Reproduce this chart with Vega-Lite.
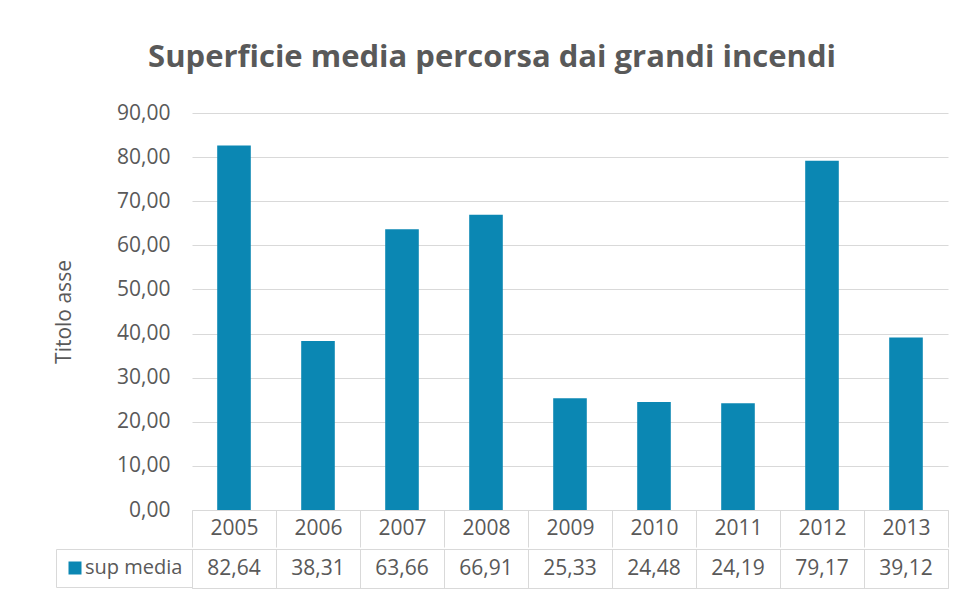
{
  "$schema": "https://vega.github.io/schema/vega-lite/v6.json",
  "background": "white",
  "padding": {"left": 53, "top": 42, "right": 15, "bottom": 7},
  "title": {
    "text": "Superficie media percorsa dai grandi incendi",
    "font": "Open Sans",
    "fontSize": 31,
    "fontWeight": "bold",
    "color": "#595959",
    "anchor": "middle",
    "dx": -9,
    "offset": 28
  },
  "data": {
    "values": [
      {"anno": "2005", "val": 82.64, "serie": "sup media"},
      {"anno": "2006", "val": 38.31, "serie": "sup media"},
      {"anno": "2007", "val": 63.66, "serie": "sup media"},
      {"anno": "2008", "val": 66.91, "serie": "sup media"},
      {"anno": "2009", "val": 25.33, "serie": "sup media"},
      {"anno": "2010", "val": 24.48, "serie": "sup media"},
      {"anno": "2011", "val": 24.19, "serie": "sup media"},
      {"anno": "2012", "val": 79.17, "serie": "sup media"},
      {"anno": "2013", "val": 39.12, "serie": "sup media"}
    ]
  },
  "spacing": 0,
  "resolve": {"scale": {"color": "independent"}, "legend": {"color": "independent"}},
  "vconcat": [
    {
      "width": 756,
      "height": 397,
      "view": {"stroke": null},
      "mark": {"type": "bar", "color": "#0b87b3", "width": {"band": 0.4}},
      "encoding": {
        "x": {
          "field": "anno",
          "type": "nominal",
          "sort": null,
          "scale": {"type": "band", "paddingInner": 0, "paddingOuter": 0},
          "axis": {
            "title": null,
            "labelAngle": 0,
            "labelFont": "Open Sans",
            "labelFontSize": 21,
            "labelColor": "#595959",
            "labelBaseline": "middle",
            "labelPadding": -19,
            "domainColor": "#d9d9d9",
            "ticks": true,
            "tickColor": "#d9d9d9",
            "tickSize": 37,
            "tickBand": "extent",
            "grid": false
          }
        },
        "y": {
          "field": "val",
          "type": "quantitative",
          "scale": {"domain": [0, 90], "nice": false},
          "axis": {
            "title": "Titolo asse",
            "titleFont": "Open Sans",
            "titleFontSize": 21,
            "titleFontWeight": "normal",
            "titleColor": "#595959",
            "titlePadding": 42,
            "values": [0, 10, 20, 30, 40, 50, 60, 70, 80, 90],
            "format": ".2f",
            "labelFont": "Open Sans",
            "labelFontSize": 21,
            "labelColor": "#595959",
            "labelPadding": 22,
            "domain": false,
            "ticks": false,
            "grid": true,
            "gridColor": "#d9d9d9"
          }
        }
      }
    },
    {
      "width": 756,
      "height": 39,
      "view": {"stroke": "#d9d9d9"},
      "layer": [
        {
          "mark": {"type": "square", "opacity": 0},
          "encoding": {
            "x": {
              "field": "anno",
              "type": "nominal",
              "sort": null,
              "scale": {"type": "band", "paddingInner": 0, "paddingOuter": 0},
              "axis": {
                "title": null,
                "labels": false,
                "ticks": false,
                "domain": false,
                "grid": true,
                "gridColor": "#d9d9d9",
                "tickBand": "extent"
              }
            },
            "color": {
              "field": "serie",
              "type": "nominal",
              "scale": {"range": ["#0b87b3"]},
              "legend": {
                "title": null,
                "orient": "left",
                "offset": 0,
                "symbolType": "square",
                "symbolSize": 169,
                "symbolOpacity": 1,
                "symbolStrokeWidth": 0,
                "labelFont": "Open Sans",
                "labelFontSize": 20,
                "labelColor": "#595959",
                "labelOffset": 0,
                "padding": 9,
                "strokeColor": "#d9d9d9"
              }
            }
          }
        },
        {
          "mark": {"type": "text", "font": "Open Sans", "fontSize": 21, "color": "#595959", "baseline": "middle"},
          "encoding": {
            "x": {"field": "anno", "type": "nominal", "sort": null},
            "text": {"field": "val", "type": "quantitative", "format": ".2f"}
          }
        }
      ]
    }
  ],
  "config": {
    "font": "Open Sans",
    "locale": {"number": {"decimal": ",", "thousands": ".", "grouping": [3], "currency": ["", " €"]}}
  }
}
